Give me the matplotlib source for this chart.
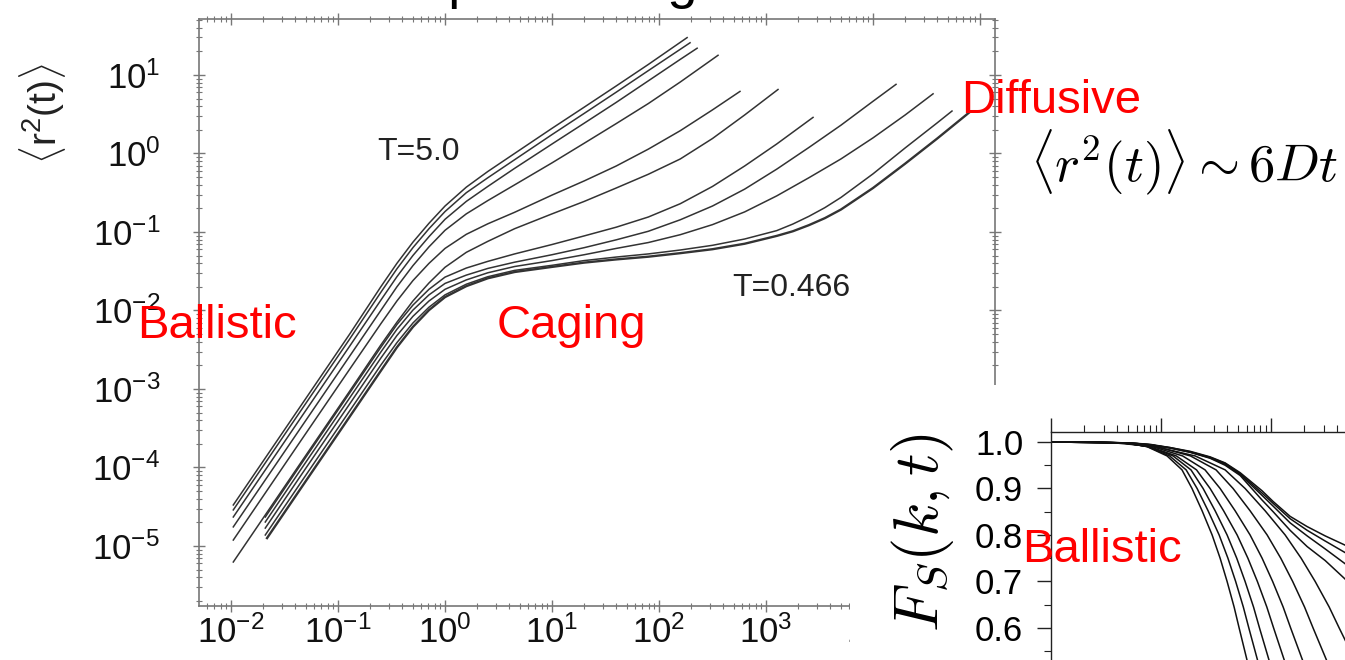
import numpy
import matplotlib
matplotlib.use("Agg")
import matplotlib.pyplot as pyplot
import matplotlib.ticker as ticker

pyplot.rcParams['font.family'] = ['Liberation Sans', 'DejaVu Sans']
pyplot.rcParams['mathtext.fontset'] = 'custom'
pyplot.rcParams['mathtext.rm'] = 'Liberation Sans'
pyplot.rcParams['mathtext.it'] = 'Liberation Sans:italic'

# mean squared displacement <r^2(t)>, one curve per temperature (T=5.0 ... T=0.466)
t_T5_0 = [0.0105, 0.0447, 0.129, 0.251, 0.355, 0.501, 0.708, 1.0, 1.58, 2.51, 4.47, 10, 20, 39.8, 79.4, 183]
r_T5_0 = [3.33e-5, 6.05e-4, 5.04e-3, 0.0200, 0.0398, 0.0741, 0.129, 0.214, 0.372, 0.589, 1.0, 2.09, 3.89, 7.24, 13.6, 29.9]
t_T4_0 = [0.0105, 0.0447, 0.129, 0.251, 0.355, 0.501, 0.708, 1.0, 1.58, 2.51, 4.47, 10, 20, 39.8, 79.4, 195]
r_T4_0 = [2.88e-5, 5.24e-4, 4.36e-3, 0.0170, 0.0339, 0.0631, 0.110, 0.182, 0.316, 0.490, 0.832, 1.74, 3.24, 6.03, 11.35, 25.7]
t_T3_0 = [0.0105, 0.0447, 0.129, 0.251, 0.355, 0.501, 0.708, 1.0, 1.58, 2.51, 4.47, 10, 20, 39.8, 79.4, 158, 227]
r_T3_0 = [2.34e-5, 4.26e-4, 3.54e-3, 0.0135, 0.0269, 0.0501, 0.0871, 0.145, 0.245, 0.380, 0.646, 1.32, 2.43, 4.47, 8.41, 15.8, 21.9]
t_T2_0 = [0.0105, 0.0447, 0.129, 0.251, 0.355, 0.501, 0.708, 1.0, 1.58, 2.51, 4.47, 10, 20, 39.8, 79.4, 158, 356]
r_T2_0 = [1.75e-5, 3.18e-4, 2.64e-3, 0.0100, 0.0200, 0.0372, 0.0646, 0.105, 0.170, 0.251, 0.398, 0.759, 1.35, 2.40, 4.32, 8.13, 17.8]
t_T1_0 = [0.0105, 0.0447, 0.129, 0.251, 0.355, 0.501, 0.708, 1.0, 1.58, 2.51, 4.47, 10, 20, 39.8, 79.4, 158, 316, 571]
r_T1_0 = [1.19e-5, 2.17e-4, 1.80e-3, 6.76e-3, 0.0132, 0.0240, 0.0398, 0.0617, 0.0933, 0.127, 0.178, 0.295, 0.447, 0.692, 1.135, 1.95, 3.59, 6.17]
t_T0_8 = [0.0105, 0.0447, 0.129, 0.251, 0.355, 0.501, 0.708, 1.0, 1.58, 2.51, 4.47, 10, 20, 39.8, 79.4, 158, 316, 631, 1294]
r_T0_8 = [6.25e-6, 1.14e-4, 9.46e-4, 3.63e-3, 7.08e-3, 0.0132, 0.0224, 0.0355, 0.0550, 0.0759, 0.110, 0.170, 0.245, 0.363, 0.543, 0.851, 1.55, 3.09, 6.53]
t_T0_6 = [0.0209, 0.0447, 0.129, 0.251, 0.355, 0.501, 0.708, 1.0, 1.58, 2.51, 4.47, 10, 20, 39.8, 79.4, 158, 316, 631, 1259, 2750]
r_T0_6 = [2.34e-5, 1.08e-4, 8.97e-4, 3.39e-3, 6.61e-3, 0.0117, 0.0186, 0.0266, 0.0347, 0.0422, 0.0525, 0.0692, 0.0891, 0.115, 0.155, 0.229, 0.380, 0.692, 1.32, 2.88]
t_T0_55 = [0.0209, 0.0447, 0.129, 0.251, 0.355, 0.501, 0.708, 1.0, 1.58, 2.51, 4.47, 10, 20, 39.8, 79.4, 158, 316, 631, 1259, 2512, 5012, 10000, 16400]
r_T0_55 = [2.02e-5, 9.33e-5, 7.76e-4, 2.95e-3, 5.75e-3, 0.0101, 0.0158, 0.0221, 0.0282, 0.0343, 0.0412, 0.0513, 0.0631, 0.0794, 0.102, 0.143, 0.214, 0.351, 0.631, 1.19, 2.29, 4.62, 7.59]
t_T0_5 = [0.0209, 0.0447, 0.129, 0.251, 0.355, 0.501, 0.708, 1.0, 1.58, 2.51, 4.47, 10, 20, 39.8, 79.4, 158, 316, 631, 1259, 2512, 5012, 10000, 19953, 36400]
r_T0_5 = [1.69e-5, 7.82e-5, 6.50e-4, 2.47e-3, 4.79e-3, 8.41e-3, 0.0132, 0.0186, 0.0245, 0.0302, 0.0363, 0.0432, 0.0513, 0.0617, 0.0733, 0.0923, 0.124, 0.180, 0.288, 0.490, 0.851, 1.58, 3.09, 5.75]
t_T0_475 = [0.0209, 0.0447, 0.129, 0.251, 0.355, 0.501, 0.708, 1.0, 1.58, 2.51, 4.47, 10, 20, 39.8, 79.4, 158, 316, 631, 1259, 1778, 2512, 3548, 5012, 10000, 19953, 39811, 54700]
r_T0_475 = [1.38e-5, 6.37e-5, 5.30e-4, 2.01e-3, 3.89e-3, 6.92e-3, 0.0110, 0.0158, 0.0216, 0.0269, 0.0324, 0.0376, 0.0432, 0.0479, 0.0525, 0.0589, 0.0676, 0.0813, 0.104, 0.126, 0.158, 0.204, 0.275, 0.550, 1.175, 2.455, 3.47]
t_T0_466 = [0.0217, 0.0447, 0.129, 0.251, 0.355, 0.501, 0.708, 1.0, 1.58, 2.51, 4.47, 10, 20, 39.8, 79.4, 158, 316, 631, 1259, 1778, 2512, 3548, 5012, 10000, 19953, 39811, 78900]
r_T0_466 = [1.26e-5, 5.37e-5, 4.47e-4, 1.70e-3, 3.39e-3, 6.17e-3, 0.0101, 0.0148, 0.0204, 0.0257, 0.0309, 0.0359, 0.0407, 0.0447, 0.0484, 0.0537, 0.0603, 0.0708, 0.0891, 0.102, 0.122, 0.150, 0.193, 0.363, 0.741, 1.55, 3.31]

# self intermediate scattering function F_s(k,t) (inset, cropped by the slide)
fs_fast = [1.0, 1.0, 0.998, 0.99, 0.97, 0.94, 0.9, 0.852, 0.80, 0.75, 0.70, 0.645, 0.60, 0.53, 0.45]
fs_t1 = [0.01, 0.0262, 0.0491, 0.0746, 0.1134, 0.155, 0.191, 0.236, 0.291, 0.344, 0.398, 0.461, 0.512, 0.605, 0.715]
fs_t2 = [0.01, 0.0238, 0.0476, 0.0754, 0.1195, 0.169, 0.2125, 0.2675, 0.337, 0.405, 0.476, 0.559, 0.627, 0.754, 0.906]
fs_t3 = [0.01, 0.0222, 0.0471, 0.0778, 0.1285, 0.187, 0.241, 0.310, 0.398, 0.487, 0.580, 0.692, 0.784, 0.959, 1.172]
fs_t4 = [0.01, 0.0190, 0.0444, 0.0782, 0.1376, 0.210, 0.279, 0.370, 0.491, 0.615, 0.750, 0.914, 1.053, 1.320, 1.654]
fs_t5 = [0.01, 0.0174, 0.0447, 0.0837, 0.157, 0.251, 0.344, 0.471, 0.644, 0.828, 1.032, 1.286, 1.504, 1.934, 2.486]
fs_t6 = [0.01, 0.0154, 0.0447, 0.0910, 0.185, 0.316, 0.451, 0.644, 0.920, 1.223, 1.569, 2.012, 2.404, 3.196, 4.249]
fs_t7 = [0.01, 0.0109, 0.0382, 0.0882, 0.204, 0.382, 0.580, 0.882, 1.341, 1.874, 2.512, 3.369, 4.151, 5.802, 8.11]
fs_tslow = [0.01, 0.0523, 0.0794, 0.1207, 0.1835, 0.279, 0.382, 0.523, 0.828, 1.043, 1.488, 2.125, 3.097, 4.707, 9.79]
fs_f8 = [1.0, 0.998, 0.994, 0.987, 0.978, 0.965, 0.950, 0.928, 0.875, 0.85, 0.81, 0.775, 0.745, 0.705, 0.62]
fs_f9 = [1.0, 0.998, 0.994, 0.987, 0.978, 0.966, 0.952, 0.930, 0.885, 0.862, 0.826, 0.798, 0.77, 0.738, 0.67]
fs_f10 = [1.0, 0.998, 0.994, 0.988, 0.979, 0.967, 0.954, 0.932, 0.89, 0.868, 0.835, 0.81, 0.787, 0.762, 0.71]
fs_f11 = [1.0, 0.998, 0.995, 0.988, 0.980, 0.968, 0.955, 0.934, 0.895, 0.872, 0.84, 0.818, 0.798, 0.778, 0.74]

msd_curves = [(t_T5_0, r_T5_0), (t_T4_0, r_T4_0), (t_T3_0, r_T3_0), (t_T2_0, r_T2_0),
	(t_T1_0, r_T1_0), (t_T0_8, r_T0_8), (t_T0_6, r_T0_6), (t_T0_55, r_T0_55),
	(t_T0_5, r_T0_5), (t_T0_475, r_T0_475), (t_T0_466, r_T0_466)]
fs_curves = [(fs_t1, fs_fast), (fs_t2, fs_fast), (fs_t3, fs_fast), (fs_t4, fs_fast),
	(fs_t5, fs_fast), (fs_t6, fs_fast), (fs_t7, fs_fast),
	(fs_tslow, fs_f8), (fs_tslow, fs_f9), (fs_tslow, fs_f10), (fs_tslow, fs_f11)]

W, H = 1345, 660
fig = pyplot.figure(figsize=(W / 100, H / 100), dpi=100)

def px_box(x0, y0, x1, y1):
	# figure-pixel box (top-left origin) -> axes rect
	return [x0 / W, 1 - y1 / H, (x1 - x0) / W, (y1 - y0) / H]

# Main MSD plot
ax = fig.add_axes(px_box(199, 19, 995, 606))
for i, (t, r) in enumerate(msd_curves):
	ax.plot(t, r, color="#333333", lw=1.1 if i < 10 else 1.7)
ax.set_xscale("log")
ax.set_yscale("log")
ax.set_xlim(5.02e-3, 1.38e5)
ax.set_ylim(1.72e-6, 51.6)
for axis in (ax.xaxis, ax.yaxis):
	axis.set_major_locator(ticker.LogLocator(base=10, numticks=20))
	axis.set_minor_locator(ticker.LogLocator(base=10, subs=numpy.arange(2, 10), numticks=100))
ax.yaxis.set_major_locator(ticker.FixedLocator([1e-5, 1e-4, 1e-3, 1e-2, 1e-1, 1, 10]))
for s in ax.spines.values():
	s.set_color("#777777")
	s.set_linewidth(1.2)
ax.tick_params(which="both", direction="inout", top=True, right=True, color="#777777")
ax.tick_params(which="major", length=8, width=1.0, labelsize=25, colors="#777777", labelcolor="#111111")
ax.tick_params(which="minor", length=4, width=0.8)
ax.tick_params(axis="y", which="major", pad=24)
ax.tick_params(axis="x", which="major", pad=3)

fig.text(418 / W, 1 - 152 / H, "T=5.0", ha="center", va="center", fontsize=23, color="#222222")
fig.text(791 / W, 1 - 288 / H, "T=0.466", ha="center", va="center", fontsize=23, color="#222222")
fig.text(42 / W, 1 - 113 / H, r"$\langle\mathregular{r^2(t)}\rangle$", rotation=90,
	ha="center", va="center", fontsize=28, color="#222222")

# white patch hiding the lower-right corner of the main plot
cover = fig.add_axes(px_box(850, 385, W, H))
cover.set_axis_off()
cover.add_patch(pyplot.Rectangle((0, 0), 1, 1, transform=cover.transAxes, color="white"))
cover.set_zorder(1)

# Inset: F_s(k,t)
ins = fig.add_axes(px_box(1051, 432, 1460, 680))
ins.set_zorder(2)
for t, f in fs_curves:
	ins.plot(t, f, color="#111111", lw=1.1)
ins.set_xscale("log")
ins.set_xlim(0.01, 52)
ins.set_ylim(0.488, 1.0215)
ins.xaxis.set_major_locator(ticker.LogLocator(base=10, numticks=20))
ins.xaxis.set_minor_locator(ticker.LogLocator(base=10, subs=numpy.arange(2, 10), numticks=100))
ins.yaxis.set_major_locator(ticker.MultipleLocator(0.1))
ins.yaxis.set_minor_locator(ticker.MultipleLocator(0.05))
ins.yaxis.set_major_formatter(ticker.FormatStrFormatter("%.1f"))
ins.tick_params(which="both", direction="out", top=True, bottom=False, labelbottom=False, color="#222222")
ins.tick_params(which="major", length=10, width=1.0, labelsize=25, pad=10)
ins.tick_params(which="minor", length=5, width=0.8)
for s in ins.spines.values():
	s.set_linewidth(1.0)
	s.set_color("#222222")

fig.text(922 / W, 1 - 533 / H, r"$F_S(k,t)$", rotation=90, ha="center", va="center",
	fontsize=45, math_fontfamily="cm", color="black")

# annotations
red = "#ff0000"
fig.text(217 / W, 1 - 338 / H, "Ballistic", ha="center", va="baseline", fontsize=34, color=red)
fig.text(571 / W, 1 - 338 / H, "Caging", ha="center", va="baseline", fontsize=34, color=red)
fig.text(1051 / W, 1 - 113 / H, "Diffusive", ha="center", va="baseline", fontsize=34, color=red)
fig.text(1102 / W, 1 - 562 / H, "Ballistic", ha="center", va="baseline", fontsize=34, color=red)
fig.text(1030 / W, 1 - 162 / H, r"$\langle r^2(t)\rangle \sim 6Dt$", ha="left", va="center",
	fontsize=38, math_fontfamily="cm", color="black")

# slide title, cut off by the top edge (only descenders show)
fig.text(540 / W, 1 + 2 / H, "Supercooling", ha="center", va="baseline", fontsize=39, color="black")

fig.savefig("out.png", dpi=100)
pyplot.close()
